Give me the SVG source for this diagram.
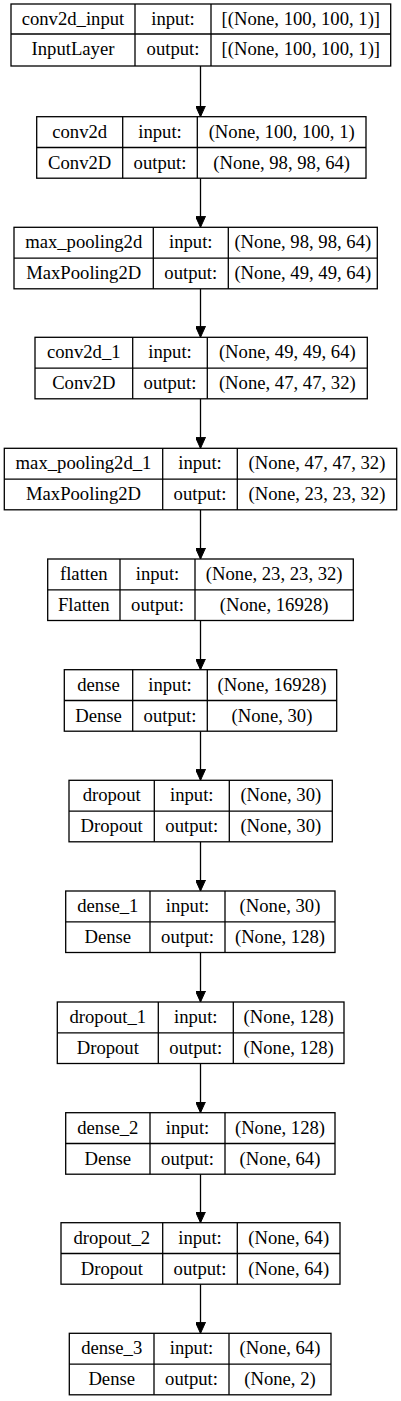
<svg xmlns="http://www.w3.org/2000/svg" width="401" height="1401" viewBox="0 0 401 1401">
<style>
.box{fill:#fff;stroke:#000;stroke-width:1.3}
.ln{stroke:#000;stroke-width:1.3;fill:none}
text{font-family:'Liberation Serif','Times New Roman',serif;font-size:18.67px;fill:#000;text-anchor:middle}
.edge{stroke:#000;stroke-width:1.3;fill:none;marker-end:url(#ah)}
</style>
<defs>
<marker id="ah" viewBox="0 0 11 10" refX="11" refY="5" markerWidth="11" markerHeight="10" markerUnits="userSpaceOnUse" orient="auto">
<path d="M0,0 L11,5 L0,10 z" fill="#000" stroke="#000" stroke-width="1"/>
</marker>
</defs>
<rect width="401" height="1401" fill="#fff"/>
<g id="connectors">
<line class="edge" x1="200.5" y1="66" x2="200.5" y2="116.7"/>
<line class="edge" x1="200.5" y1="178.2" x2="200.5" y2="227.3"/>
<line class="edge" x1="200.5" y1="288.8" x2="200.5" y2="337.3"/>
<line class="edge" x1="200.5" y1="398.8" x2="200.5" y2="448.3"/>
<line class="edge" x1="200.5" y1="509.8" x2="200.5" y2="559"/>
<line class="edge" x1="200.5" y1="620.5" x2="200.5" y2="669.7"/>
<line class="edge" x1="200.5" y1="731.2" x2="200.5" y2="780.3"/>
<line class="edge" x1="200.5" y1="841.8" x2="200.5" y2="891"/>
<line class="edge" x1="200.5" y1="952.5" x2="200.5" y2="1002"/>
<line class="edge" x1="200.5" y1="1063.5" x2="200.5" y2="1112.7"/>
<line class="edge" x1="200.5" y1="1174.2" x2="200.5" y2="1222.7"/>
<line class="edge" x1="200.5" y1="1284.2" x2="200.5" y2="1333.3"/>
</g>
<g id="conv2d_input">
<rect class="box" x="11" y="4" width="379.7" height="62"/>
<line class="ln" x1="11" y1="34" x2="390.7" y2="34"/>
<line class="ln" x1="135" y1="4" x2="135" y2="66"/>
<line class="ln" x1="211" y1="4" x2="211" y2="66"/>
<text x="73" y="25">conv2d_input</text><text x="173" y="25">input:</text><text x="300.8" y="25">[(None, 100, 100, 1)]</text>
<text x="73" y="55">InputLayer</text><text x="173" y="55">output:</text><text x="300.8" y="55">[(None, 100, 100, 1)]</text>
</g>
<g id="conv2d">
<rect class="box" x="36.7" y="116.7" width="329.3" height="61.5"/>
<line class="ln" x1="36.7" y1="147.5" x2="366" y2="147.5"/>
<line class="ln" x1="122.7" y1="116.7" x2="122.7" y2="178.2"/>
<line class="ln" x1="197.3" y1="116.7" x2="197.3" y2="178.2"/>
<text x="79.7" y="137.7">conv2d</text><text x="160" y="137.7">input:</text><text x="281.7" y="137.7">(None, 100, 100, 1)</text>
<text x="79.7" y="168.5">Conv2D</text><text x="160" y="168.5">output:</text><text x="281.7" y="168.5">(None, 98, 98, 64)</text>
</g>
<g id="max_pooling2d">
<rect class="box" x="14" y="227.3" width="363.3" height="61.5"/>
<line class="ln" x1="14" y1="258.1" x2="377.3" y2="258.1"/>
<line class="ln" x1="153.3" y1="227.3" x2="153.3" y2="288.8"/>
<line class="ln" x1="228.3" y1="227.3" x2="228.3" y2="288.8"/>
<text x="83.7" y="248.3">max_pooling2d</text><text x="190.8" y="248.3">input:</text><text x="302.8" y="248.3">(None, 98, 98, 64)</text>
<text x="83.7" y="279.1">MaxPooling2D</text><text x="190.8" y="279.1">output:</text><text x="302.8" y="279.1">(None, 49, 49, 64)</text>
</g>
<g id="conv2d_1">
<rect class="box" x="35" y="337.3" width="332.3" height="61.5"/>
<line class="ln" x1="35" y1="368.1" x2="367.3" y2="368.1"/>
<line class="ln" x1="132.7" y1="337.3" x2="132.7" y2="398.8"/>
<line class="ln" x1="207.3" y1="337.3" x2="207.3" y2="398.8"/>
<text x="83.8" y="358.3">conv2d_1</text><text x="170" y="358.3">input:</text><text x="287.3" y="358.3">(None, 49, 49, 64)</text>
<text x="83.8" y="389.1">Conv2D</text><text x="170" y="389.1">output:</text><text x="287.3" y="389.1">(None, 47, 47, 32)</text>
</g>
<g id="max_pooling2d_1">
<rect class="box" x="4.3" y="448.3" width="392.4" height="61.5"/>
<line class="ln" x1="4.3" y1="479.1" x2="396.7" y2="479.1"/>
<line class="ln" x1="162.7" y1="448.3" x2="162.7" y2="509.8"/>
<line class="ln" x1="237.3" y1="448.3" x2="237.3" y2="509.8"/>
<text x="83.5" y="469.3">max_pooling2d_1</text><text x="200" y="469.3">input:</text><text x="317" y="469.3">(None, 47, 47, 32)</text>
<text x="83.5" y="500.1">MaxPooling2D</text><text x="200" y="500.1">output:</text><text x="317" y="500.1">(None, 23, 23, 32)</text>
</g>
<g id="flatten">
<rect class="box" x="47.7" y="559" width="305.6" height="61.5"/>
<line class="ln" x1="47.7" y1="589.8" x2="353.3" y2="589.8"/>
<line class="ln" x1="120" y1="559" x2="120" y2="620.5"/>
<line class="ln" x1="195" y1="559" x2="195" y2="620.5"/>
<text x="83.8" y="580">flatten</text><text x="157.5" y="580">input:</text><text x="274.2" y="580">(None, 23, 23, 32)</text>
<text x="83.8" y="610.8">Flatten</text><text x="157.5" y="610.8">output:</text><text x="274.2" y="610.8">(None, 16928)</text>
</g>
<g id="dense">
<rect class="box" x="64.3" y="669.7" width="272.4" height="61.5"/>
<line class="ln" x1="64.3" y1="700.5" x2="336.7" y2="700.5"/>
<line class="ln" x1="132.7" y1="669.7" x2="132.7" y2="731.2"/>
<line class="ln" x1="207.3" y1="669.7" x2="207.3" y2="731.2"/>
<text x="98.5" y="690.7">dense</text><text x="170" y="690.7">input:</text><text x="272" y="690.7">(None, 16928)</text>
<text x="98.5" y="721.5">Dense</text><text x="170" y="721.5">output:</text><text x="272" y="721.5">(None, 30)</text>
</g>
<g id="dropout">
<rect class="box" x="69" y="780.3" width="263.3" height="61.5"/>
<line class="ln" x1="69" y1="811.1" x2="332.3" y2="811.1"/>
<line class="ln" x1="154.3" y1="780.3" x2="154.3" y2="841.8"/>
<line class="ln" x1="229.3" y1="780.3" x2="229.3" y2="841.8"/>
<text x="111.7" y="801.3">dropout</text><text x="191.8" y="801.3">input:</text><text x="280.8" y="801.3">(None, 30)</text>
<text x="111.7" y="832.1">Dropout</text><text x="191.8" y="832.1">output:</text><text x="280.8" y="832.1">(None, 30)</text>
</g>
<g id="dense_1">
<rect class="box" x="65.7" y="891" width="269.3" height="61.5"/>
<line class="ln" x1="65.7" y1="921.8" x2="335" y2="921.8"/>
<line class="ln" x1="150" y1="891" x2="150" y2="952.5"/>
<line class="ln" x1="225" y1="891" x2="225" y2="952.5"/>
<text x="107.8" y="912">dense_1</text><text x="187.5" y="912">input:</text><text x="280" y="912">(None, 30)</text>
<text x="107.8" y="942.8">Dense</text><text x="187.5" y="942.8">output:</text><text x="280" y="942.8">(None, 128)</text>
</g>
<g id="dropout_1">
<rect class="box" x="57.3" y="1002" width="286.7" height="61.5"/>
<line class="ln" x1="57.3" y1="1032.8" x2="344" y2="1032.8"/>
<line class="ln" x1="158.3" y1="1002" x2="158.3" y2="1063.5"/>
<line class="ln" x1="233.3" y1="1002" x2="233.3" y2="1063.5"/>
<text x="107.8" y="1023">dropout_1</text><text x="195.8" y="1023">input:</text><text x="288.7" y="1023">(None, 128)</text>
<text x="107.8" y="1053.8">Dropout</text><text x="195.8" y="1053.8">output:</text><text x="288.7" y="1053.8">(None, 128)</text>
</g>
<g id="dense_2">
<rect class="box" x="65.7" y="1112.7" width="269.3" height="61.5"/>
<line class="ln" x1="65.7" y1="1143.5" x2="335" y2="1143.5"/>
<line class="ln" x1="150" y1="1112.7" x2="150" y2="1174.2"/>
<line class="ln" x1="225" y1="1112.7" x2="225" y2="1174.2"/>
<text x="107.8" y="1133.7">dense_2</text><text x="187.5" y="1133.7">input:</text><text x="280" y="1133.7">(None, 128)</text>
<text x="107.8" y="1164.5">Dense</text><text x="187.5" y="1164.5">output:</text><text x="280" y="1164.5">(None, 64)</text>
</g>
<g id="dropout_2">
<rect class="box" x="61" y="1222.7" width="279" height="61.5"/>
<line class="ln" x1="61" y1="1253.5" x2="340" y2="1253.5"/>
<line class="ln" x1="162.7" y1="1222.7" x2="162.7" y2="1284.2"/>
<line class="ln" x1="237.3" y1="1222.7" x2="237.3" y2="1284.2"/>
<text x="111.8" y="1243.7">dropout_2</text><text x="200" y="1243.7">input:</text><text x="288.7" y="1243.7">(None, 64)</text>
<text x="111.8" y="1274.5">Dropout</text><text x="200" y="1274.5">output:</text><text x="288.7" y="1274.5">(None, 64)</text>
</g>
<g id="dense_3">
<rect class="box" x="69.3" y="1333.3" width="261.7" height="61.5"/>
<line class="ln" x1="69.3" y1="1364.1" x2="331" y2="1364.1"/>
<line class="ln" x1="154" y1="1333.3" x2="154" y2="1394.8"/>
<line class="ln" x1="229" y1="1333.3" x2="229" y2="1394.8"/>
<text x="111.7" y="1354.3">dense_3</text><text x="191.5" y="1354.3">input:</text><text x="280" y="1354.3">(None, 64)</text>
<text x="111.7" y="1385.1">Dense</text><text x="191.5" y="1385.1">output:</text><text x="280" y="1385.1">(None, 2)</text>
</g>
</svg>
